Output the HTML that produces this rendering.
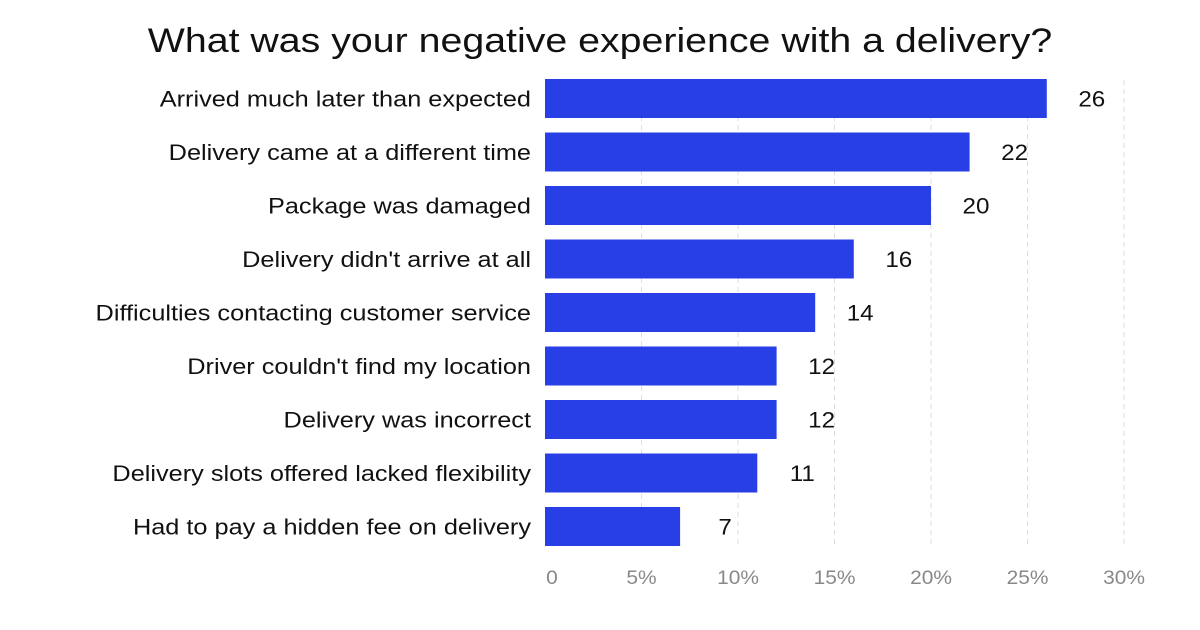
<!DOCTYPE html>
<html><head><meta charset="utf-8"><style>
body{margin:0;background:#fff;}
svg{display:block;font-family:"Liberation Sans",sans-serif;}
</style></head><body>
<svg id="chart" width="1200" height="630">
<text id="title" x="600" y="52" text-anchor="middle" font-size="34" fill="#111">What was your negative experience with a delivery?</text>
<g id="grid"></g><g id="bars"></g><g id="ticks"></g>
</svg>
<script>
const categories=["Arrived much later than expected","Delivery came at a different time","Package was damaged","Delivery didn't arrive at all","Difficulties contacting customer service","Driver couldn't find my location","Delivery was incorrect","Delivery slots offered lacked flexibility","Had to pay a hidden fee on delivery"];
const values=[26,22,20,16,14,12,12,11,7];
const tickValues=[0,5,10,15,20,25,30];
const tickLabels=["0","5%","10%","15%","20%","25%","30%"];
const NS="http://www.w3.org/2000/svg";
const x=v=>545+v*(1124-545)/30;
const y=i=>79+i*53.5;
const bh=39;
const grid=document.getElementById('grid'),bars=document.getElementById('bars'),ticks=document.getElementById('ticks');
function mk(t,a,p){const e=document.createElementNS(NS,t);for(const k in a)e.setAttribute(k,a[k]);p.appendChild(e);return e;}
function widen(el,f){const w=el.getComputedTextLength();el.setAttribute('textLength',w*f);el.setAttribute('lengthAdjust','spacingAndGlyphs');}
widen(document.getElementById('title'),1.156);
tickValues.forEach((v,i)=>{
 if(v>0){const l=mk('line',{x1:x(v),x2:x(v),y1:80,y2:548,stroke:'#ddd','stroke-dasharray':'5,4'},grid);
 
 }
 const t=mk('text',{x:x(v)+(v===0?7:0),y:584,'text-anchor':'middle','font-size':19,fill:'#888'},ticks);
 t.textContent=tickLabels[i];
 
 
 widen(t,1.1);
});
categories.forEach((c,i)=>{
 const r=mk('rect',{x:x(0),y:y(i),width:x(values[i])-x(0),height:bh,fill:'#283fe6'},bars);
 
 
 const l=mk('text',{x:531,y:y(i)+bh/2+8,'text-anchor':'end','font-size':22,fill:'#111'},bars);
 l.textContent=c;
 
 
 widen(l,1.15);
 const v=mk('text',{x:x(values[i])+45,y:y(i)+bh/2+8,'text-anchor':'middle','font-size':22,fill:'#111'},bars);
 v.textContent=values[i];
 
 
 widen(v,1.1);
});
</script>
</body></html>
